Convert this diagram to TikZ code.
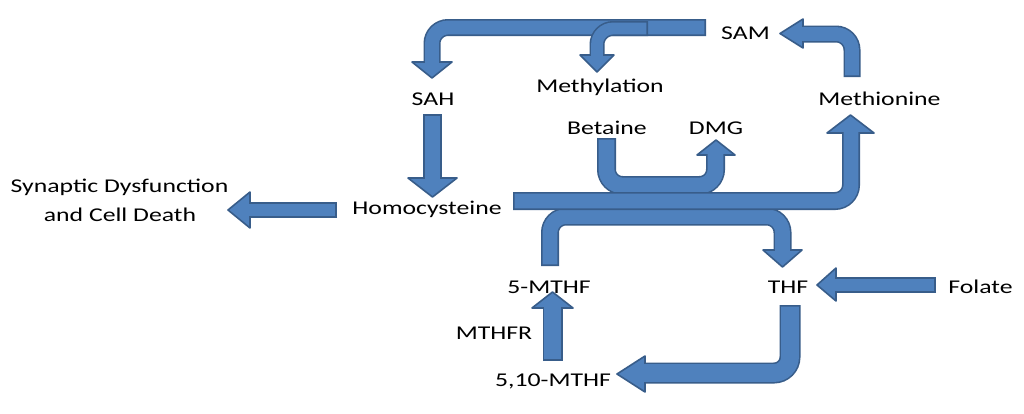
\documentclass[tikz,border=0pt]{standalone}
\usepackage{fontspec}
\setmainfont{Carlito}[FakeStretch=1.32]
\definecolor{arrowfill}{HTML}{4F81BD}
\definecolor{arrowedge}{HTML}{385D8A}
\tikzset{
  lbl/.style={inner sep=0pt, anchor=base, text=black, font=\fontsize{19.5}{26}\selectfont},
  edgeline/.style={draw=arrowedge, rounded corners=16pt},
  coreline/.style={draw=arrowfill, rounded corners=16pt, shorten <=1.6pt},
  arrowhead/.style={fill=arrowfill, draw=arrowedge, line width=1.6pt, line join=round}
}
% block arrow: width, shaft path, head polygon
\newcommand{\blockarrow}[3]{%
  \draw[edgeline, line width=#1] #2;
  \filldraw[arrowhead] #3;
  \draw[coreline, line width=#1-3.2pt] #2;
}
\begin{document}
\begin{tikzpicture}[x=1pt, y=-1pt]
    \useasboundingbox[fill=white] (0,0) rectangle (1024,413);
    % labels
    \node[lbl] (sam) at (745.5,39) {SAM};
    \node[lbl] (methylation) at (600,92) {Methylation};
    \node[lbl] (sah) at (433,105.5) {SAH};
    \node[lbl] (methionine) at (879.5,105) {Methionine};
    \node[lbl] (betaine) at (607,134) {Betaine};
    \node[lbl] (dmg) at (716,134) {DMG};
    \node[lbl] (hcy) at (427,214) {Homocysteine};
    \node[lbl] (synaptic) at (119.5,192.5) {Synaptic Dysfunction};
    \node[lbl] (celldeath) at (120,221) {and Cell Death};
    \node[lbl] (mthf) at (549,293) {5-MTHF};
    \node[lbl] (thf) at (788,293) {THF};
    \node[lbl] (folate) at (980.5,293) {Folate};
    \node[lbl] (mthfr) at (494,339.5) {MTHFR};
    \node[lbl] (mthf510) at (553,386.5) {5,10-MTHF};
    % SAM cycle
    \blockarrow{17pt}{(706,27.5) -- (432,27.5) -- (432,65)}{(412,62) -- (452,62) -- (432,78) -- cycle}
    \blockarrow{15pt}{(648,28.5) -- (597,28.5) -- (597,58)}{(580,55) -- (614,55) -- (597,72) -- cycle}
    \blockarrow{17pt}{(852,77) -- (852,34) -- (800,34)}{(803,19) -- (803,48) -- (780,33.5) -- cycle}
    \blockarrow{19pt}{(432.5,114) -- (432.5,181)}{(408,178) -- (457,178) -- (432.5,197) -- cycle}
    \blockarrow{16pt}{(337,210) -- (247,210)}{(250,192) -- (250,228) -- (228,210) -- cycle}
    % remethylation
    \blockarrow{19pt}{(606.5,138) -- (606.5,185.5) -- (715.5,185.5) -- (715.5,152)}{(697,155) -- (735,155) -- (716,140) -- cycle}
    \blockarrow{18pt}{(550,266) -- (550,216.5) -- (782.5,216.5) -- (782.5,253)}{(763,250) -- (802,250) -- (782.5,267) -- cycle}
    \blockarrow{18pt}{(513,201) -- (851,201) -- (851,130)}{(827,133) -- (874,133) -- (850.5,115) -- cycle}
    % folate cycle
    \blockarrow{16pt}{(936,285) -- (833,285)}{(836,268) -- (836,301) -- (817,285) -- cycle}
    \blockarrow{20pt}{(552.5,361) -- (552.5,305)}{(532,308) -- (573,308) -- (552.5,292) -- cycle}
    \blockarrow{21pt}{(790,305) -- (790,373) -- (642,373)}{(645,356) -- (645,392) -- (617,374) -- cycle}
\end{tikzpicture}
\end{document}
